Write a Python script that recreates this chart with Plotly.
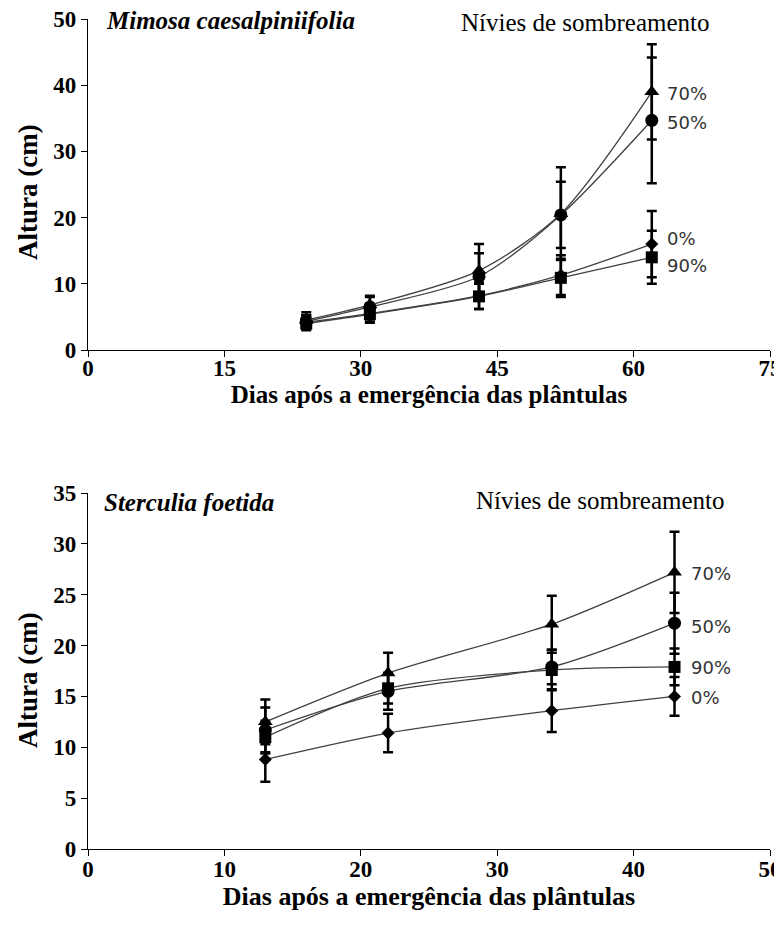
import plotly.graph_objects as go

# ---------- Data: Mimosa caesalpiniifolia ----------
m_days = [24, 31, 43, 52, 62]
m_0 = [4.2, 5.5, 8.2, 11.3, 16.0]
m_0_err = [1.0, 1.2, 2.0, 3.0, 5.0]
m_50 = [4.3, 6.5, 11.1, 20.4, 34.7]
m_50_err = [1.0, 1.5, 3.5, 5.0, 9.5]
m_70 = [4.5, 6.8, 12.0, 20.6, 39.0]
m_70_err = [1.2, 1.4, 4.0, 7.0, 7.2]
m_90 = [4.0, 5.4, 8.1, 10.9, 14.0]
m_90_err = [1.0, 1.3, 1.9, 2.9, 4.0]
m_label_text = ["70%", "50%", "0%", "90%"]
m_label_y = [38.8, 34.4, 16.9, 12.8]

# ---------- Data: Sterculia foetida ----------
s_days = [13, 22, 34, 43]
s_0 = [8.8, 11.4, 13.6, 15.0]
s_0_err = [2.2, 1.9, 2.1, 1.9]
s_50 = [11.7, 15.5, 17.9, 22.2]
s_50_err = [2.2, 1.8, 1.7, 3.0]
s_70 = [12.5, 17.3, 22.1, 27.2]
s_70_err = [2.2, 2.0, 2.8, 4.0]
s_90 = [11.0, 15.8, 17.6, 17.9]
s_90_err = [1.6, 1.5, 2.0, 1.8]
s_label_text = ["70%", "50%", "90%", "0%"]
s_label_y = [27.1, 21.9, 17.8, 14.9]

x_title = "Dias após a emergência das plântulas"
y_title = "Altura (cm)"
legend_title = "Nívies de sombreamento"

SERIF = "Liberation Serif"
SANS = "DejaVu Sans"

# page geometry (body has an 8px margin in the browser)
OFF = 8
PL, PR, PT, PB = 88, 770, 19, 849   # plot area in page pixels
W, H = 782 - OFF, 933 - OFF

fig = go.Figure()

symbols = {"0": "diamond", "50": "circle", "70": "triangle-up", "90": "square"}
sizes = {"0": 10, "50": 13, "70": 13, "90": 12}


def add_series(x, y, err, key, xa, ya):
    fig.add_trace(go.Scatter(
        x=x, y=y, xaxis=xa, yaxis=ya, mode="lines+markers",
        line=dict(color="#404040", width=1.3, shape="spline", smoothing=0.8),
        marker=dict(symbol=symbols[key], size=sizes[key], color="black"),
        error_y=dict(type="data", array=err, visible=True, color="black",
                     thickness=2.5, width=5),
        showlegend=False, name=key + "%"))


for key, y, e in [("0", m_0, m_0_err), ("90", m_90, m_90_err),
                  ("50", m_50, m_50_err), ("70", m_70, m_70_err)]:
    add_series(m_days, y, e, key, "x", "y")

for key, y, e in [("0", s_0, s_0_err), ("90", s_90, s_90_err),
                  ("50", s_50, s_50_err), ("70", s_70, s_70_err)]:
    add_series(s_days, y, e, key, "x2", "y2")

axis_common = dict(showline=True, linecolor="black", linewidth=1.3,
                   ticks="outside", ticklen=6, tickcolor="black", tickwidth=1.3,
                   showgrid=False, zeroline=False, automargin=False,
                   ticklabeloverflow="allow",
                   tickfont=dict(family=SERIF, size=23, color="black", weight="bold"))

ph = PB - PT


def fy(py):
    return (PB - py) / ph


def fx(px):
    return (px - PL) / (PR - PL)


fig.update_layout(
    width=W, height=H,
    paper_bgcolor="white", plot_bgcolor="white",
    margin=dict(l=PL - OFF, r=W - (PR - OFF), t=PT - OFF, b=H - (PB - OFF)),
    xaxis=dict(domain=[0, 1], anchor="y", range=[0, 75], tickvals=[0, 15, 30, 45, 60, 75],
               ticklabelstandoff=-9,
               title=dict(text=x_title, font=dict(family=SERIF, size=25, color="black", weight="bold"), standoff=2),
               **axis_common),
    yaxis=dict(domain=[fy(350), 1.0], anchor="x", range=[0, 50], tickvals=[0, 10, 20, 30, 40, 50],
               **axis_common),
    xaxis2=dict(domain=[0, 1], anchor="y2", range=[0, 50], tickvals=[0, 10, 20, 30, 40, 50],
                ticklabelstandoff=-7,
                title=dict(text=x_title, font=dict(family=SERIF, size=26, color="black", weight="bold"), standoff=0),
                **axis_common),
    yaxis2=dict(domain=[0, fy(493)], anchor="x2", range=[0, 35], tickvals=[0, 5, 10, 15, 20, 25, 30, 35],
                **axis_common),
)

annotations = []
# y axis titles (rotated)
for cy in (192, 680):
    annotations.append(dict(text="<b>" + y_title + "</b>", xref="paper", yref="paper",
                            x=fx(28), y=fy(cy), xanchor="center", yanchor="middle", textangle=-90,
                            showarrow=False, font=dict(family=SERIF, size=27, color="black")))
annotations.append(dict(text="<b><i>Mimosa caesalpiniifolia</i></b>", xref="paper", yref="paper",
                        x=fx(104), y=fy(20), xanchor="left", yanchor="middle",
                        showarrow=False, font=dict(family=SERIF, size=25, color="black")))
annotations.append(dict(text="<b><i>Sterculia foetida</i></b>", xref="paper", yref="paper",
                        x=fx(102), y=fy(502), xanchor="left", yanchor="middle",
                        showarrow=False, font=dict(family=SERIF, size=25, color="black")))
annotations.append(dict(text=legend_title, xref="paper", yref="paper",
                        x=fx(712), y=fy(22), xanchor="right", yanchor="middle",
                        showarrow=False, font=dict(family=SERIF, size=25, color="black")))
annotations.append(dict(text=legend_title, xref="paper", yref="paper",
                        x=fx(727), y=fy(501), xanchor="right", yanchor="middle",
                        showarrow=False, font=dict(family=SERIF, size=25, color="black")))

for t, yv in zip(m_label_text, m_label_y):
    annotations.append(dict(text=t, xref="x", yref="y", x=m_days[-1], y=yv, xanchor="left",
                            yanchor="middle", xshift=13, showarrow=False,
                            font=dict(family=SANS, size=18, color="#333333")))
for t, yv in zip(s_label_text, s_label_y):
    annotations.append(dict(text=t, xref="x2", yref="y2", x=s_days[-1], y=yv, xanchor="left",
                            yanchor="middle", xshift=14, showarrow=False,
                            font=dict(family=SANS, size=18, color="#333333")))

fig.update_layout(annotations=annotations)

fig.write_html("out.html", post_script="document.documentElement.style.overflow='hidden';document.body.style.overflow='hidden';")
